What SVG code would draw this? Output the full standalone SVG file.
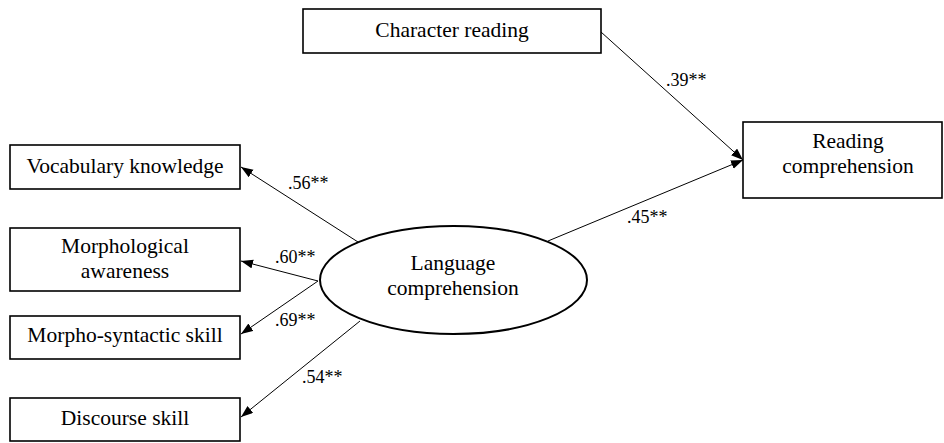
<svg xmlns="http://www.w3.org/2000/svg" width="944" height="443" viewBox="0 0 944 443">
<style>
.box{fill:#fff;stroke:#000;stroke-width:1.6}
.t{font-family:"Liberation Serif","Times New Roman",serif;font-size:21.5px;fill:#000;text-anchor:middle}
.l{font-family:"Liberation Serif","Times New Roman",serif;font-size:18px;fill:#000}
.c{stroke:#000;stroke-width:1;fill:none}
</style>
<defs>
<marker id="ah" markerUnits="userSpaceOnUse" markerWidth="13" markerHeight="10" refX="12" refY="4.5" orient="auto">
<path d="M0,0 L12,4.5 L0,9 z" fill="#000"/>
</marker>
</defs>
<rect width="944" height="443" fill="#fff"/>
<g id="connectors">
<line class="c" x1="601" y1="32" x2="743" y2="160" marker-end="url(#ah)"/>
<line class="c" x1="548" y1="241" x2="743" y2="160" marker-end="url(#ah)"/>
<line class="c" x1="358" y1="242" x2="241" y2="167" marker-end="url(#ah)"/>
<line class="c" x1="318" y1="281" x2="241" y2="261" marker-end="url(#ah)"/>
<line class="c" x1="318" y1="281" x2="241" y2="334" marker-end="url(#ah)"/>
<line class="c" x1="360" y1="321" x2="241" y2="417" marker-end="url(#ah)"/>
<text class="l" x="666" y="86">.39**</text>
<text class="l" x="627" y="223">.45**</text>
<text class="l" x="288" y="189">.56**</text>
<text class="l" x="275" y="263">.60**</text>
<text class="l" x="275" y="326">.69**</text>
<text class="l" x="302" y="383">.54**</text>
</g>
<g id="character-reading">
<rect class="box" x="303" y="9" width="298" height="44"/>
<text class="t" x="452" y="37">Character reading</text>
</g>
<g id="reading-comprehension">
<rect class="box" x="743" y="122" width="199" height="76"/>
<text class="t" x="848" y="148">Reading</text>
<text class="t" x="848" y="173">comprehension</text>
</g>
<g id="language-comprehension">
<ellipse cx="453.5" cy="280" rx="133.5" ry="54" fill="#fff" stroke="#000" stroke-width="2"/>
<text class="t" x="453" y="270">Language</text>
<text class="t" x="453" y="295">comprehension</text>
</g>
<g id="vocabulary-knowledge">
<rect class="box" x="10" y="145" width="230" height="44"/>
<text class="t" x="125" y="173">Vocabulary knowledge</text>
</g>
<g id="morphological-awareness">
<rect class="box" x="10" y="228" width="230" height="63"/>
<text class="t" x="125" y="253">Morphological</text>
<text class="t" x="125" y="278">awareness</text>
</g>
<g id="morpho-syntactic-skill">
<rect class="box" x="10" y="316" width="230" height="43"/>
<text class="t" x="125" y="342">Morpho-syntactic skill</text>
</g>
<g id="discourse-skill">
<rect class="box" x="10" y="398" width="230" height="43"/>
<text class="t" x="125" y="425">Discourse skill</text>
</g>
</svg>
